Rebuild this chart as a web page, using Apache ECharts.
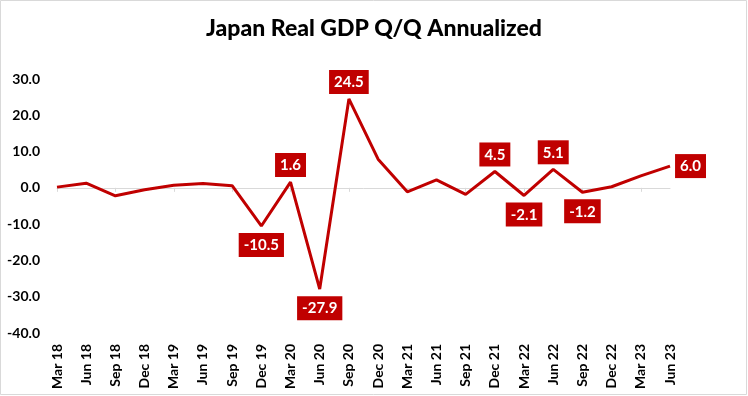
<!DOCTYPE html>
<html>
<head>
<meta charset="utf-8">
<title>Japan Real GDP Q/Q Annualized</title>
<script src="https://cdn.jsdelivr.net/npm/echarts@6/dist/echarts.min.js"></script>
</head>
<body style="margin:0">
<div id="main" style="width:748px;height:396px;"></div>
<script type="text/javascript">
var quarters = ['Mar 18','Jun 18','Sep 18','Dec 18','Mar 19','Jun 19','Sep 19','Dec 19',
    'Mar 20','Jun 20','Sep 20','Dec 20','Mar 21','Jun 21','Sep 21','Dec 21',
    'Mar 22','Jun 22','Sep 22','Dec 22','Mar 23','Jun 23'];
var gdp = [0.2, 1.3, -2.2, -0.5, 0.7, 1.2, 0.6, -10.5,
    1.6, -27.9, 24.5, 7.9, -1.1, 2.2, -1.8, 4.5,
    -2.1, 5.1, -1.2, 0.3, 3.3, 6.0];
// quarters that get a value box
var labelled = [7, 8, 9, 10, 15, 16, 17, 18, 21];

var red = '#c00000';
var font = 'Lato, "Open Sans", sans-serif';

var chart = echarts.init(document.getElementById('main'));

var seriesData = gdp.map(function (v, i) {
    if (labelled.indexOf(i) < 0) return v;
    var pos = v < 0 ? 'bottom' : 'top';
    if (i === gdp.length - 1) pos = 'right';
    return {
        value: v,
        label: {
            show: true,
            position: pos,
            distance: pos === 'bottom' ? 7 : 5,
            formatter: function (p) { return p.value.toFixed(1); },
            backgroundColor: red,
            color: '#fff',
            fontFamily: font,
            fontWeight: 'bold',
            fontSize: 15,
            padding: [5, 5, 4, 5]
        }
    };
});

chart.setOption({
    animation: false,
    backgroundColor: '#fff',
    title: {
        text: 'Japan Real GDP Q/Q Annualized',
        left: 'center',
        top: 12,
        textStyle: { fontFamily: font, fontWeight: 900, fontSize: 23, color: '#000' }
    },
    graphic: [{
        type: 'rect',
        shape: { x: 0.5, y: 0.5, width: 746, height: 394 },
        style: { fill: 'none', stroke: '#d9d9d9', lineWidth: 1 },
        silent: true
    }],
    grid: { left: 57, right: 78, top: 79, bottom: 63 },
    xAxis: [{
        type: 'category',
        data: quarters,
        boundaryGap: false,
        axisLine: { show: false, onZero: false },
        axisTick: { show: false },
        axisLabel: {
            rotate: 90,
            margin: 11,
            fontFamily: font,
            fontWeight: 'bold',
            fontSize: 14,
            color: '#000'
        }
    }, {
        type: 'category',
        data: quarters,
        boundaryGap: false,
        position: 'bottom',
        axisLine: { onZero: true, lineStyle: { color: '#d9d9d9', width: 1 } },
        axisTick: { show: true, inside: false, length: 4, lineStyle: { color: '#d9d9d9' } },
        axisLabel: { show: false }
    }],
    yAxis: {
        type: 'value',
        min: -40,
        max: 30,
        interval: 10,
        axisLine: { show: false },
        axisTick: { show: false },
        splitLine: { show: false },
        axisLabel: {
            margin: 17,
            fontFamily: font,
            fontWeight: 'bold',
            fontSize: 14,
            color: '#000',
            formatter: function (v) { return v.toFixed(1); }
        }
    },
    series: [{
        type: 'line',
        data: seriesData,
        showSymbol: true,
        symbol: 'circle',
        symbolSize: 0.1,
        lineStyle: { color: red, width: 3 },
        itemStyle: { color: red }
    }]
});
</script>
</body>
</html>
